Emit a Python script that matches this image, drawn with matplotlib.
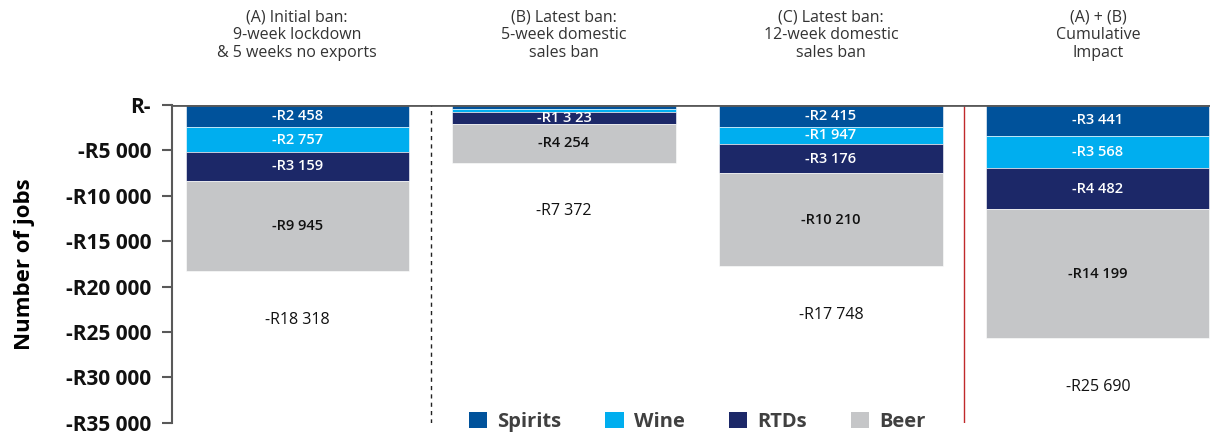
import numpy as np
import matplotlib.pyplot as plt
from matplotlib.patches import Patch

plt.rcParams['font.family'] = ['Open Sans', 'DejaVu Sans']

# Job losses per scenario, by beverage category
scenarios = ['(A) Initial ban:\n9-week lockdown\n& 5 weeks no exports',
             '(B) Latest ban:\n5-week domestic\nsales ban',
             '(C) Latest ban:\n12-week domestic\nsales ban',
             '(A) + (B)\nCumulative\nImpact']
categories = ['Spirits', 'Wine', 'RTDs', 'Beer']
spirits = [-2458, -450, -2415, -3441]
wine = [-2757, -350, -1947, -3568]
rtds = [-3159, -1323, -3176, -4482]
beer = [-9945, -4254, -10210, -14199]
totals = [-18318, -7372, -17748, -25690]
seg_labels = [
    ['-R2 458', '', '-R2 415', '-R3 441'],
    ['-R2 757', '', '-R1 947', '-R3 568'],
    ['-R3 159', '-R1 3 23', '-R3 176', '-R4 482'],
    ['-R9 945', '-R4 254', '-R10 210', '-R14 199'],
]
total_labels = ['-R18 318', '-R7 372', '-R17 748', '-R25 690']
yticks = [0, -5000, -10000, -15000, -20000, -25000, -30000, -35000]
ytick_labels = ['R-', '-R5 000', '-R10 000', '-R15 000', '-R20 000',
                '-R25 000', '-R30 000', '-R35 000']

colors = ['#00529B', '#00AEEF', '#1C2868', '#C5C6C8']
text_colors = ['white', 'white', 'white', '#111111']

fig = plt.figure(figsize=(12.1, 4.36), dpi=100)
ax = fig.add_axes([0.1421, 0.03, 0.8579, 0.73])

x = np.arange(len(scenarios))
width = 0.836
bottom = np.zeros(len(x))
for vals, col, tcol, labs in zip([spirits, wine, rtds, beer], colors, text_colors, seg_labels):
    vals = np.array(vals, dtype=float)
    ax.bar(x, vals, width, bottom=bottom, color=col, edgecolor='white', linewidth=0.4)
    for xi, b, v, lab in zip(x, bottom, vals, labs):
        if lab:
            ax.text(xi, b + v / 2, lab, ha='center', va='center', color=tcol,
                    fontsize=10.5, fontweight='semibold')
    bottom += vals

# Totals shown below each stack
for xi, b, lab in zip(x, bottom, total_labels):
    ax.annotate(lab, (xi, b), xytext=(0, -35), textcoords='offset points',
                ha='center', va='center', fontsize=11.5, color='#111111')

# Scenario headings above the plot
for xi, name in zip(x, scenarios):
    ax.annotate(name, (xi, 0), xytext=(0, 50), textcoords='offset points',
                ha='center', va='center', fontsize=11.5, color='#333333',
                linespacing=1.15, annotation_clip=False)

ax.axvline(0.5, color='#222222', linestyle=(0, (3, 3)), linewidth=1)
ax.axvline(2.5, color='#C0292B', linewidth=1)
ax.axhline(0, color='#595959', linewidth=2, zorder=5)

ax.set_xlim(-0.469, 3.42)
ax.set_ylim(-35000, 0)
ax.set_xticks([])
ax.set_yticks(yticks)
ax.set_yticklabels(ytick_labels, fontsize=15, fontweight='bold', color='#111111')
ax.tick_params(axis='y', length=7, width=1.5, color='#595959', pad=8)
for s in ['top', 'right', 'bottom']:
    ax.spines[s].set_visible(False)
ax.spines['left'].set_color('#595959')
ax.spines['left'].set_linewidth(1.5)
ax.set_ylabel('Number of jobs', fontsize=16, fontweight='bold', labelpad=22)

handles = [Patch(facecolor=c, label=n) for c, n in zip(colors, categories)]
leg = ax.legend(handles=handles, loc='lower center', bbox_to_anchor=(0.506, -0.085),
                ncol=4, frameon=False, handlelength=0.9, handleheight=0.9,
                handletextpad=0.5, columnspacing=2.2,
                prop={'size': 14.5, 'weight': 'bold'})
for t in leg.get_texts():
    t.set_color('#404040')

fig.savefig('out.png', dpi=100)
